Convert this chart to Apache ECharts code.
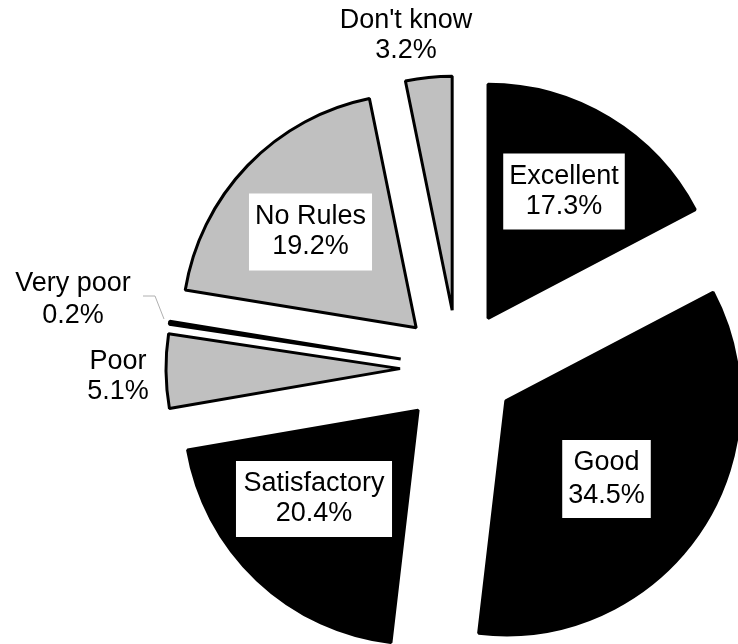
<!DOCTYPE html>
<html>
<head>
<meta charset="utf-8">
<script src="https://cdn.jsdelivr.net/npm/echarts@6/dist/echarts.min.js"></script>
<style>
html,body{margin:0;padding:0;background:#fff;}
#chart{width:738px;height:644px;}
</style>
</head>
<body>
<div id="chart"></div>
<script>
// ---- data ----
var categories = ['Excellent', 'Good', 'Satisfactory', 'Poor', 'Very poor', 'No Rules', "Don't know"];
var values = [17.3, 34.5, 20.4, 5.1, 0.2, 19.2, 3.2];
var sliceColors = ['#000000', '#000000', '#000000', '#c0c0c0', '#c0c0c0', '#c0c0c0', '#c0c0c0'];
var boxedLabel = [true, true, true, false, false, true, false];

// ---- label placement (layout, not data) ----
var labelCenters = [
  [564, 191.5], [606.5, 479], [314, 499], [118, 376.5], [73, 299.5], [310.5, 232], [406, 35.5]
];
var labelLineHeights = [30, 33, 30, 30, 32, 30, 30];
var labelPadding = [[8, 6], [6, 6], [8, 7.5], [0, 0], [0, 0], [8.5, 6], [0, 0]];

var chart = echarts.init(document.getElementById('chart'), null, {renderer: 'canvas'});

var seriesData = categories.map(function (name, i) {
  return {
    name: name,
    value: values[i],
    selected: true,
    itemStyle: {color: sliceColors[i]}
  };
});

var labelGraphics = categories.map(function (name, i) {
  var style = {
    text: name + '\n' + values[i] + '%',
    fill: '#000',
    fontFamily: 'Liberation Sans, Arial, sans-serif',
    fontSize: 27,
    lineHeight: labelLineHeights[i],
    align: 'center',
    verticalAlign: 'middle'
  };
  if (boxedLabel[i]) {
    style.backgroundColor = '#ffffff';
    style.padding = labelPadding[i];
  }
  return {
    type: 'text',
    x: labelCenters[i][0],
    y: labelCenters[i][1],
    z: 100,
    silent: true,
    style: style
  };
});

// faint leader line of the "Very poor" label
labelGraphics.push({
  type: 'polyline',
  z: 90,
  silent: true,
  shape: {points: [[143, 296], [155, 296], [164, 319]]},
  style: {stroke: '#b0b0b0', lineWidth: 1, fill: null}
});

chart.setOption({
  animation: false,
  backgroundColor: '#ffffff',
  series: [{
    type: 'pie',
    center: [458, 368],
    radius: 234,
    startAngle: 90,
    clockwise: true,
    selectedMode: 'multiple',
    selectedOffset: 58,
    itemStyle: {borderColor: '#000', borderWidth: 3, borderJoin: 'bevel'},
    select: {itemStyle: {borderColor: '#000', borderWidth: 3, borderJoin: 'bevel'}},
    emphasis: {disabled: true},
    label: {show: false},
    labelLine: {show: false},
    data: seriesData
  }],
  graphic: labelGraphics
});
</script>
</body>
</html>
